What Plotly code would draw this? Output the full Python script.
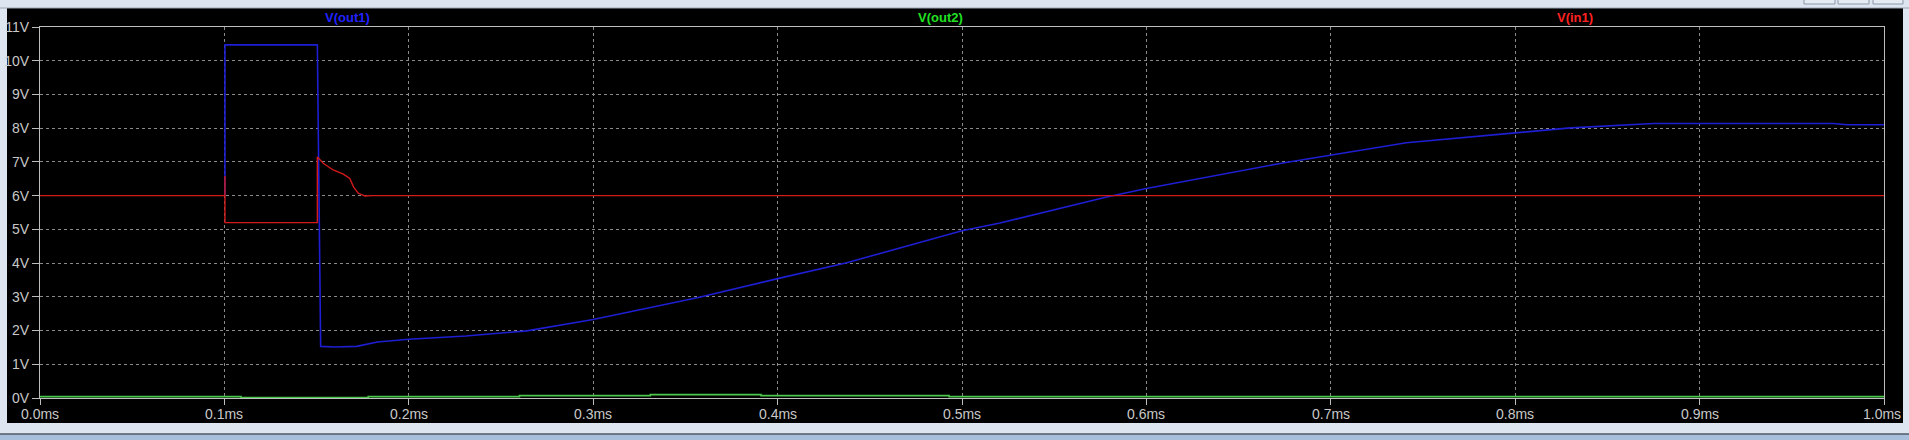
import plotly.graph_objects as go

# time in ms, voltage in V
out1_t = [0.1003, 0.1003, 0.1504, 0.1522, 0.160, 0.1717, 0.183, 0.2, 0.231, 0.264,
          0.3, 0.357, 0.4, 0.4375, 0.5, 0.5206, 0.5785, 0.6, 0.674, 0.7, 0.741, 0.8,
          0.83, 0.875, 0.9, 0.938, 0.9725, 0.98, 1.0]
out1_v = [6.0, 10.47, 10.47, 1.53, 1.51, 1.53, 1.66, 1.74, 1.84, 1.99,
          2.33, 2.98, 3.54, 4.01, 4.96, 5.19, 5.96, 6.21, 6.97, 7.20, 7.57, 7.86,
          8.01, 8.14, 8.14, 8.16, 8.14, 8.10, 8.10]

out2_t = [0.0, 0.109, 0.109, 0.178, 0.178, 0.260, 0.260, 0.331, 0.331, 0.391, 0.391,
          0.493, 0.493, 1.0]
out2_v = [0.04, 0.04, 0.01, 0.01, 0.04, 0.04, 0.07, 0.07, 0.10, 0.10, 0.07,
          0.07, 0.04, 0.04]

in1_t = [0.0, 0.1003, 0.1003, 0.1003, 0.1504, 0.1504, 0.1536, 0.159, 0.1645, 0.168,
         0.170, 0.1726, 0.1762, 0.18, 1.0]
in1_v = [6.0, 6.0, 6.58, 5.20, 5.20, 7.15, 6.96, 6.76, 6.64, 6.51,
         6.26, 6.07, 5.99, 6.0, 6.0]

x_ticks = [0.0, 0.1, 0.2, 0.3, 0.4, 0.5, 0.6, 0.7, 0.8, 0.9, 1.0]
x_labels = ["0.0ms", "0.1ms", "0.2ms", "0.3ms", "0.4ms", "0.5ms",
            "0.6ms", "0.7ms", "0.8ms", "0.9ms", "1.0ms"]
y_ticks = list(range(0, 12))
y_labels = [f"{v}V" for v in y_ticks]

W, H = 1909, 440
L, R, T, B = 40, 25, 27, 42
pw, ph = W - L - R, H - T - B


def px(x):
    return (x - L) / pw


def py(y):
    return 1 - (y - T) / ph


FONT = "Liberation Sans, Arial, sans-serif"
GRID = "#8a8a8a"
FRAME = "#bdbdbd"
TXT = "#c8c8c8"

fig = go.Figure()
fig.add_trace(go.Scatter(x=out1_t, y=out1_v, mode="lines", name="V(out1)",
                         line=dict(color="#1e1ed2", width=1.6)))
fig.add_trace(go.Scatter(x=out2_t, y=out2_v, mode="lines", name="V(out2)",
                         line=dict(color="#4cc84c", width=1.6)))
fig.add_trace(go.Scatter(x=in1_t, y=in1_v, mode="lines", name="V(in1)",
                         line=dict(color="#d21a1a", width=1.4)))

# window chrome and black plot window
shapes = [
    dict(type="rect", xref="paper", yref="paper", x0=px(7), x1=px(1903),
         y0=py(423), y1=py(8), fillcolor="#000000", line_width=0, layer="below"),
    dict(type="line", xref="paper", yref="paper", x0=px(0), x1=px(W),
         y0=py(8), y1=py(8), line=dict(color="#9aa6b4", width=1)),
    dict(type="rect", xref="paper", yref="paper", x0=px(0), x1=px(W),
         y0=py(H), y1=py(434), fillcolor="#a9c0dc", line_width=0),
    dict(type="line", xref="paper", yref="paper", x0=px(0), x1=px(W),
         y0=py(434), y1=py(434), line=dict(color="#505a66", width=1.5)),
]
for x0, x1 in [(1804, 1835), (1838, 1869), (1873, 1903)]:
    shapes.append(dict(type="rect", xref="paper", yref="paper", x0=px(x0), x1=px(x1),
                       y0=py(4), y1=py(-6), line=dict(color="#8c98a8", width=1),
                       fillcolor="#e4ebf3"))

annotations = []
for txt, xc, col in [("V(out1)", 347, "#2222ff"), ("V(out2)", 940, "#22e022"),
                     ("V(in1)", 1575, "#ff2222")]:
    annotations.append(dict(text=f"<b>{txt}</b>", xref="paper", yref="paper",
                            x=px(xc), y=py(18), xanchor="center", yanchor="middle",
                            showarrow=False,
                            font=dict(family=FONT, size=13, color=col)))

# x tick labels as annotations so the last one is not clipped
for tv, tl in zip(x_ticks, x_labels):
    annotations.append(dict(text=tl, xref="x", yref="paper", x=tv, y=py(414),
                            xanchor="right" if tv == x_ticks[-1] else "center",
                            xshift=19 if tv == x_ticks[-1] else 0,
                            yanchor="middle", showarrow=False,
                            font=dict(family=FONT, size=14, color=TXT)))

fig.update_layout(
    width=W, height=H,
    margin=dict(l=L, r=R, t=T, b=B, autoexpand=False),
    paper_bgcolor="#dde6f0",
    plot_bgcolor="#000000",
    showlegend=False,
    shapes=shapes,
    annotations=annotations,
    font=dict(family=FONT, size=14, color=TXT),
)
fig.update_xaxes(
    range=[0, 1.0], tickvals=x_ticks, showticklabels=False,
    showgrid=True, gridcolor=GRID, griddash="3px,3px", gridwidth=1,
    showline=True, linecolor=FRAME, linewidth=1, mirror=True,
    ticks="outside", ticklen=6, tickcolor=FRAME, zeroline=False,
)
fig.update_yaxes(
    range=[0, 11], tickvals=y_ticks, ticktext=y_labels,
    showgrid=True, gridcolor=GRID, griddash="3px,3px", gridwidth=1,
    showline=True, linecolor=FRAME, linewidth=1, mirror=True,
    ticks="outside", ticklen=7, tickcolor=FRAME, zeroline=False,
    tickfont=dict(family=FONT, size=14, color=TXT),
)

# drop the browser's default body margin so the figure fills the window
fig.write_html("out.html", config={"displayModeBar": False},
               post_script="document.body.style.margin='0';")
